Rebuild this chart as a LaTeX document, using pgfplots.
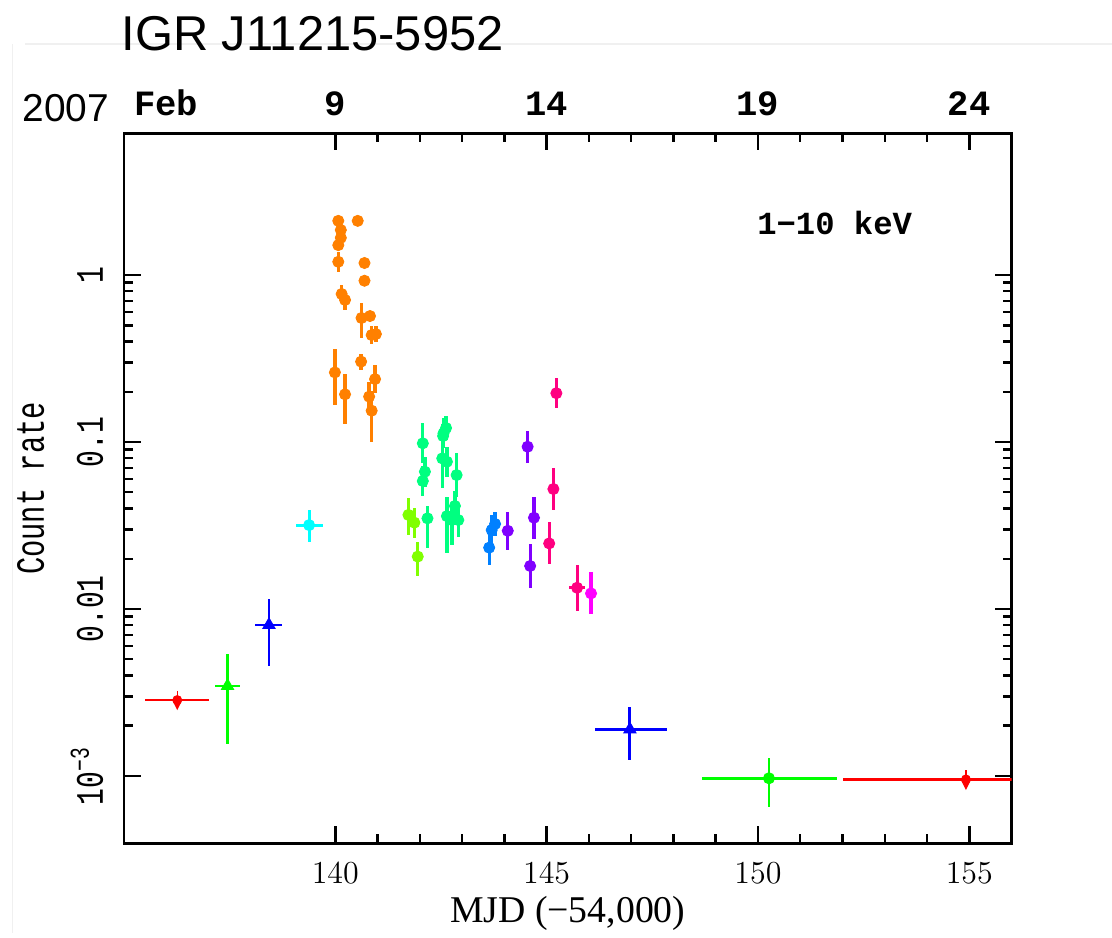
\documentclass[border=0pt]{standalone}
\usepackage{fontspec}
\setmainfont{Liberation Serif}
\newfontfamily\sansf{Liberation Sans}
\newfontfamily\monof{Liberation Mono}
\newfontfamily\monoc[FakeStretch=0.72]{Liberation Mono}
\usepackage{pgfplots}
\usepackage{pgfplotstable}
\pgfplotsset{compat=1.18}
\usetikzlibrary{arrows.meta}
\definecolor{cOrange}{RGB}{255,128,0}
\definecolor{cLime}{RGB}{128,255,0}
\definecolor{cSpring}{RGB}{0,255,128}
\definecolor{cAzure}{RGB}{0,128,255}
\definecolor{cViolet}{RGB}{128,0,255}
\definecolor{cRose}{RGB}{255,0,128}
\definecolor{cMag}{RGB}{255,0,255}
\definecolor{cGreen}{RGB}{0,255,0}
\definecolor{cBlue}{RGB}{0,0,255}
\definecolor{cCyan}{RGB}{0,255,255}
\definecolor{cRed}{RGB}{255,0,0}

\pgfplotstableread{
x y ep em
140.07 2.11 0.120 0.113
140.53 2.11 0.089 0.085
140.13 1.86 0.105 0.100
140.13 1.67 0.095 0.090
140.07 1.51 0.086 0.081
140.07 1.20 0.177 0.155
140.69 1.18 0.067 0.063
140.69 0.924 0.052 0.050
140.15 0.770 0.102 0.090
140.23 0.709 0.083 0.091
140.62 0.553 0.127 0.133
140.82 0.568 0.041 0.038
140.86 0.437 0.058 0.051
140.96 0.443 0.052 0.046
140.61 0.303 0.035 0.032
139.99 0.261 0.0973 0.0954
140.94 0.238 0.0506 0.0418
140.23 0.193 0.0613 0.0654
140.80 0.187 0.0429 0.0349
140.86 0.154 0.0489 0.0535
}\orange
\pgfplotstableread{
x y ep em
141.73 0.0366 0.00966 0.00882
141.87 0.0329 0.00755 0.00614
141.95 0.0206 0.00473 0.00475
}\lime
\pgfplotstableread{
x y ep em
142.07 0.0982 0.0312 0.0237
142.12 0.0664 0.0152 0.0124
142.07 0.0584 0.0134 0.0109
142.18 0.0349 0.00628 0.0118
142.56 0.1128 0.0259 0.0211
142.62 0.1213 0.0218 0.0185
142.55 0.1086 0.0195 0.0166
142.53 0.0798 0.0183 0.0270
142.64 0.0762 0.0175 0.0142
142.87 0.0634 0.0224 0.0166
142.64 0.0360 0.0108 0.0144
142.83 0.0414 0.0095 0.0077
142.91 0.0341 0.00783 0.00713
142.76 0.0341 0.00783 0.00994
}\spring
\pgfplotstableread{
x y ep em
143.64 0.0233 0.00535 0.00487
143.70 0.0297 0.00682 0.00555
143.78 0.0323 0.00581 0.00493
}\azure
\pgfplotstableread{
x y ep em
144.08 0.0294 0.00881 0.00678
144.55 0.0937 0.0231 0.0185
144.70 0.0352 0.0118 0.00885
144.61 0.0181 0.00641 0.00473
}\violet
\pgfplotstableread{
x y ep em ex
145.23 0.196 0.0450 0.0366 0
145.16 0.0523 0.0176 0.0131 0
145.06 0.0247 0.00829 0.00621 0
145.72 0.0134 0.00500 0.00364 0.18
}\rose

\pgfplotsset{
  pt/.style={only marks, mark=*, mark size=2.5pt, color=#1,
    mark options={fill=#1, draw=#1, line width=0.4pt},
    error bars/y dir=both, error bars/y explicit, error bars/error mark=none,
    error bars/error bar style={line width=1.5pt, #1}},
  ptxy/.style={only marks, mark size=2.5pt, color=#1,
    mark options={fill=#1, draw=#1, line width=0.4pt},
    error bars/y dir=both, error bars/y explicit, error bars/x dir=both, error bars/x explicit,
    error bars/error mark=none,
    error bars/error bar style={line width=1.3pt, #1}},
  hbar/.style={only marks, mark=none, color=#1,
    error bars/x dir=both, error bars/x explicit, error bars/error mark=none,
    error bars/error bar style={line width=1.3pt, #1}},
  ularrow/.style={#1, line width=0.6pt, mark=none, -{Stealth[length=4pt,width=4pt]}},
}

\begin{document}
\begin{tikzpicture}
\begin{scope}[x=0.45pt,y=-0.45pt]
\path[use as bounding box] (0,0) rectangle (1112,933);
\draw[black!6, line width=0.5pt] (25,44) -- (1112,44);
\draw[black!6, line width=0.5pt] (12.7,44) -- (12.7,933);
\node[anchor=base west, inner sep=0, font=\sansf\fontsize{22}{26}\selectfont] at (121,50) {IGR J11215-5952};
\node[anchor=base west, inner sep=0, font=\sansf\fontsize{17.5}{20}\selectfont] at (22,121) {2007};
\end{scope}

\begin{axis}[
  at={(55.8pt,-379.5pt)}, anchor=south west,
  scale only axis, width=399.4pt, height=319.4pt,
  xmin=135, xmax=156, ymode=log, ymin=3.95e-4, ymax=7.03,
  xtick={140,145,150,155}, minor x tick num=4,
  ytick={0.001,0.01,0.1,1},
  yticklabels={10\textsuperscript{−3},0.01,0.1,1},
  tick align=inside,
  major tick length=7.6pt, minor tick length=4pt,
  axis line style={line width=1.3pt},
  every tick/.style={black, line width=1.1pt},
  xticklabel style={font=\fontsize{15}{15}\selectfont, anchor=base},
  xticklabel shift=18pt,
  yticklabel style={font=\monoc\fontsize{17.5}{17.5}\selectfont, rotate=90, anchor=base},
  yticklabel shift=9.5pt,
  xlabel={MJD (−54,000)},
  xlabel style={font=\fontsize{17}{17}\selectfont, at={(axis description cs:0.5,-0.098)}, anchor=center},
  ylabel={Count rate},
  ylabel style={font=\monoc\fontsize{18}{18}\selectfont, at={(axis description cs:-0.105,0.5)}, anchor=center},
  clip=true,
]
% upper limits (red)
\addplot[hbar=cRed] coordinates {(136.26,0.00285) +- (0.76,0)};
\addplot[ularrow=cRed] coordinates {(136.26,0.00323) (136.26,0.00248)};
\addplot[hbar=cRed] coordinates {(154.92,0.000955) +- (2.9,0)};
\addplot[ularrow=cRed] coordinates {(154.92,0.001086) (154.92,0.000824)};
% early points
\addplot[ptxy=cGreen, mark=triangle*, mark size=3.2pt] coordinates {(137.45,0.00346) +- (0.30,0.0019)};
\addplot[ptxy=cBlue, mark=triangle*, mark size=3.2pt] coordinates {(138.43,0.00802) +- (0.32,0.00346)};
\addplot[ptxy=cCyan, mark=*] coordinates {(139.38,0.0318) += (0.32,0.0074) -= (0.32,0.0067)};
% dense data
\addplot[pt=cOrange] table[x=x,y=y,y error plus=ep,y error minus=em]{\orange};
\addplot[pt=cLime] table[x=x,y=y,y error plus=ep,y error minus=em]{\lime};
\addplot[pt=cSpring] table[x=x,y=y,y error plus=ep,y error minus=em]{\spring};
\addplot[pt=cAzure] table[x=x,y=y,y error plus=ep,y error minus=em]{\azure};
\addplot[pt=cViolet] table[x=x,y=y,y error plus=ep,y error minus=em]{\violet};
\addplot[ptxy=cRose, mark=*] table[x=x,y=y,y error plus=ep,y error minus=em,x error=ex]{\rose};
\addplot[pt=cMag] coordinates {(146.05,0.0124) += (0,0.00416) -= (0,0.00312)};
% late points
\addplot[ptxy=cBlue, mark=triangle*, mark size=3.2pt] coordinates {(146.97,0.00190) += (0.87,0.00068) -= (0.82,0.00065)};
\addplot[ptxy=cGreen, mark=*] coordinates {(150.26,0.000969) += (1.60,0.000307) -= (1.59,0.000314)};
\node[anchor=base west, inner sep=0, font=\monof\bfseries\fontsize{14.5}{14.5}\selectfont] at (rel axis cs:0.713,0.858) {1−10 keV};
\end{axis}

\begin{axis}[
  at={(55.8pt,-379.5pt)}, anchor=south west,
  scale only axis, width=399.4pt, height=319.4pt,
  xmin=135, xmax=156, ymin=0, ymax=1,
  axis x line*=top, axis y line=none,
  axis line style={draw=none},
  xtick={136,140,145,150,155},
  xticklabels={Feb,9,14,19,24},
  major tick length=0pt,
  every tick/.style={draw=none},
  xticklabel style={font=\monof\bfseries\fontsize{16}{16}\selectfont, anchor=base},
  xticklabel shift=8.3pt,
]
\end{axis}
\end{tikzpicture}
\end{document}
